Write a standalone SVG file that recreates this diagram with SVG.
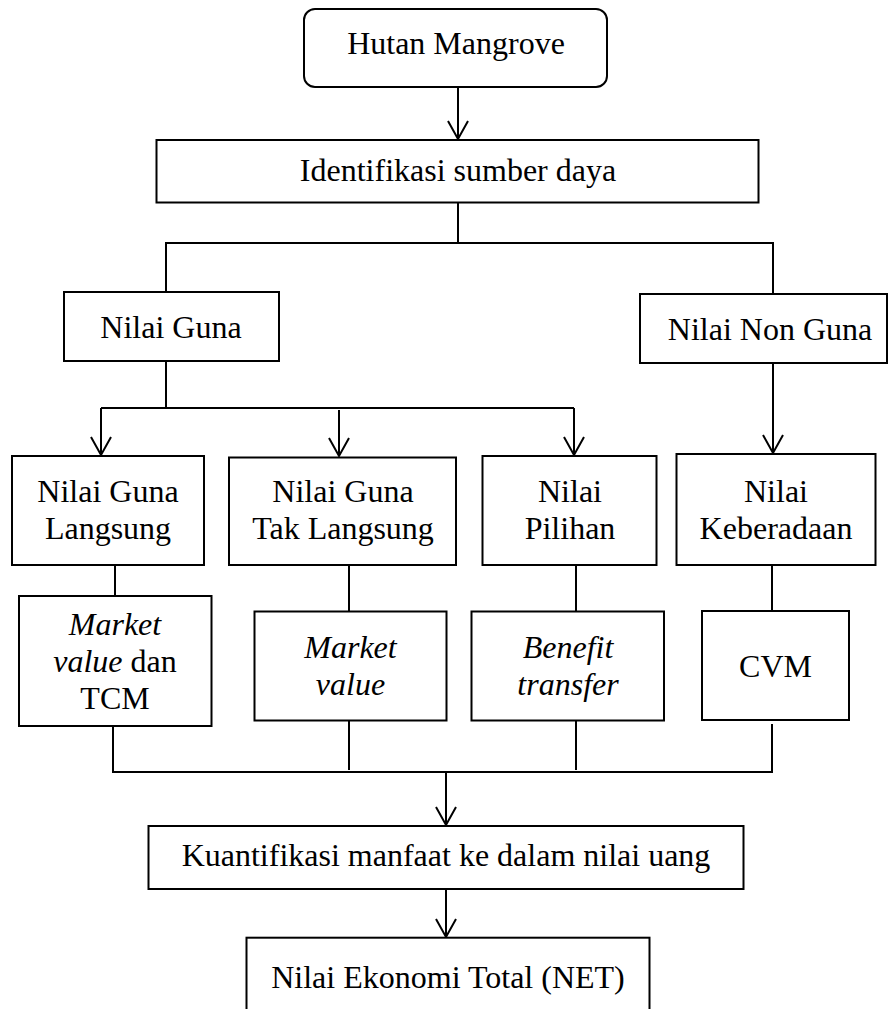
<svg xmlns="http://www.w3.org/2000/svg" width="890" height="1009" viewBox="0 0 890 1009">
<style>
.box{fill:#fff;stroke:#000;stroke-width:2}
.t{font-family:"Liberation Serif","Times New Roman",serif;font-size:32px;fill:#000;text-anchor:middle}
.i{font-style:italic}
.c{fill:none;stroke:#000;stroke-width:2}
</style>
<defs>
<marker id="arr" viewBox="-21 -12 24 24" refX="0" refY="0" markerWidth="24" markerHeight="24" orient="auto" markerUnits="userSpaceOnUse">
<path d="M-18,-10 L0,0 L-18,10" fill="none" stroke="#000" stroke-width="2"/>
</marker>
</defs>
<rect x="0" y="0" width="890" height="1009" fill="#fff"/>
<g id="connectors">
<path class="c" d="M458,87 V139" marker-end="url(#arr)"/>
<path class="c" d="M458,202 V243"/>
<path class="c" d="M166,292 V243 H773 V294"/>
<path class="c" d="M166,361 V408"/>
<path class="c" d="M101,408 H574"/>
<path class="c" d="M101,408 V455" marker-end="url(#arr)"/>
<path class="c" d="M339,410 V456" marker-end="url(#arr)"/>
<path class="c" d="M574,408 V455" marker-end="url(#arr)"/>
<path class="c" d="M773,360 V453" marker-end="url(#arr)"/>
<path class="c" d="M115,565 V596"/>
<path class="c" d="M349,565 V612"/>
<path class="c" d="M576,565 V612"/>
<path class="c" d="M772,565 V611"/>
<path class="c" d="M113,726 V772 H772 V724"/>
<path class="c" d="M349,721 V770"/>
<path class="c" d="M576,721 V770"/>
<path class="c" d="M446,772 V825" marker-end="url(#arr)"/>
<path class="c" d="M446,889 V937" marker-end="url(#arr)"/>
</g>
<g id="hutan">
<rect class="box" x="304" y="9" width="303" height="78" rx="11"/>
<text class="t" x="456" y="54">Hutan Mangrove</text>
</g>
<g id="identifikasi">
<rect class="box" x="156.5" y="140" width="602" height="62.5"/>
<text class="t" x="458" y="181">Identifikasi sumber daya</text>
</g>
<g id="nilai-guna">
<rect class="box" x="64" y="292" width="215" height="69"/>
<text class="t" x="171" y="338">Nilai Guna</text>
</g>
<g id="nilai-non-guna">
<rect class="box" x="640" y="294" width="247" height="69"/>
<text class="t" x="770" y="340">Nilai Non Guna</text>
</g>
<g id="guna-langsung">
<rect class="box" x="12" y="456" width="192" height="109"/>
<text class="t" x="108" y="502">Nilai Guna</text>
<text class="t" x="108" y="539">Langsung</text>
</g>
<g id="guna-tak-langsung">
<rect class="box" x="229" y="457.5" width="227" height="107.5"/>
<text class="t" x="343" y="502">Nilai Guna</text>
<text class="t" x="343" y="539">Tak Langsung</text>
</g>
<g id="pilihan">
<rect class="box" x="482.5" y="456" width="174" height="109"/>
<text class="t" x="570" y="502">Nilai</text>
<text class="t" x="570" y="539">Pilihan</text>
</g>
<g id="keberadaan">
<rect class="box" x="676.5" y="454" width="199" height="111"/>
<text class="t" x="776" y="502">Nilai</text>
<text class="t" x="776" y="539">Keberadaan</text>
</g>
<g id="market-tcm">
<rect class="box" x="19" y="596" width="192.5" height="130"/>
<text class="t" x="115" y="635"><tspan class="i">Market</tspan></text>
<text class="t" x="115" y="672"><tspan class="i">value</tspan> dan</text>
<text class="t" x="115" y="709">TCM</text>
</g>
<g id="market-value">
<rect class="box" x="254.5" y="611.5" width="192" height="109"/>
<text class="t i" x="350.5" y="658">Market</text>
<text class="t i" x="350.5" y="695">value</text>
</g>
<g id="benefit">
<rect class="box" x="471.5" y="611.5" width="192.5" height="109"/>
<text class="t i" x="568" y="658">Benefit</text>
<text class="t i" x="568" y="695">transfer</text>
</g>
<g id="cvm">
<rect class="box" x="702" y="611" width="147" height="109"/>
<text class="t" x="775.5" y="677">CVM</text>
</g>
<g id="kuantifikasi">
<rect class="box" x="148.5" y="826" width="595" height="63"/>
<text class="t" x="446" y="866">Kuantifikasi manfaat ke dalam nilai uang</text>
</g>
<g id="net">
<rect class="box" x="246.5" y="937.7" width="403" height="90"/>
<text class="t" x="448" y="988">Nilai Ekonomi Total (NET)</text>
</g>
</svg>
